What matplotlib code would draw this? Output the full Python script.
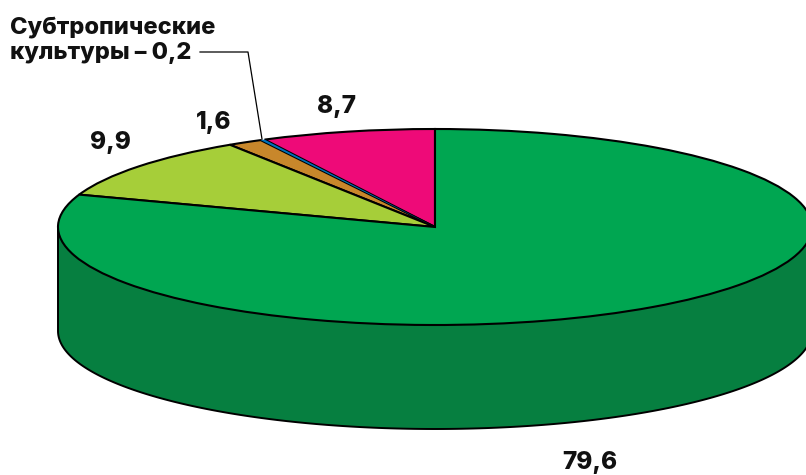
import numpy as np
import matplotlib
matplotlib.use("Agg")
import matplotlib.pyplot as plt
from matplotlib.patches import Wedge

plt.rcParams['font.family'] = ['Inter', 'Liberation Sans', 'DejaVu Sans']

# shares, counter-clockwise from the top of the pie
values = [8.7, 0.2, 1.6, 9.9, 79.6]
labels = ["8,7", "", "1,6", "9,9", "79,6"]
colors = ["#EE0A78", "#0072BC", "#C8872B", "#A6CE39", "#00A651"]
side_color = "#067F40"

W, H = 806, 475
cx, cy = 435, 227      # centre of the top ellipse, pixels
rx, ry = 377, 98
depth = 104 / ry

label_pos = [(337, 106), None, (214, 123), (110, 143), (590, 463)]

fig = plt.figure(figsize=(W / 100, H / 100), dpi=100)
ax = fig.add_axes([0, 0, 1, 1])
ax.set_xlim(-cx / rx, (W - cx) / rx)
ax.set_ylim(-(H - cy) / ry, cy / ry)
ax.axis("off")


def to_data(x, y):
    return (x - cx) / rx, (cy - y) / ry


def skew(a):
    # the picture squeezes the back of the pie a little
    return a - 5 * np.sin(np.radians(2 * a))


# side wall
t = np.linspace(np.pi, 2 * np.pi, 200)
xs = np.concatenate([np.cos(t), [1, -1]])
ys = np.concatenate([np.sin(t) - depth, [0, 0]])
ax.fill(xs, ys, facecolor=side_color, edgecolor="black", lw=1.4, zorder=1)

# top face
ang = 0.0
for v, c in zip(values, colors):
    a1 = 90 + skew(ang)
    a2 = 90 + skew(ang + v * 3.6)
    thin = v < 1
    ax.add_patch(Wedge((0, 0), 1, a1, a2, facecolor=c, edgecolor="black",
                       lw=0 if thin else 1.5, zorder=3 if thin else 2))
    ang += v * 3.6

for lab, pos in zip(labels, label_pos):
    if pos:
        fig.text(pos[0] / W, 1 - pos[1] / H, lab, fontsize=17.5, fontweight=800,
                 ha="center", va="center", color="#111111")

fig.text(10 / W, 1 - 27 / H, "Субтропические", fontsize=17, fontweight=800,
         ha="left", va="center", color="#111111")
fig.text(10 / W, 1 - 53 / H, "культуры – 0,2", fontsize=17, fontweight=800,
         ha="left", va="center", color="#111111")

# leader line
lx, ly = zip(*[to_data(200, 52), to_data(248, 52), to_data(262, 139)])
ax.plot(lx, ly, color="black", lw=0.9, zorder=4)

fig.savefig("out.png", dpi=100)
